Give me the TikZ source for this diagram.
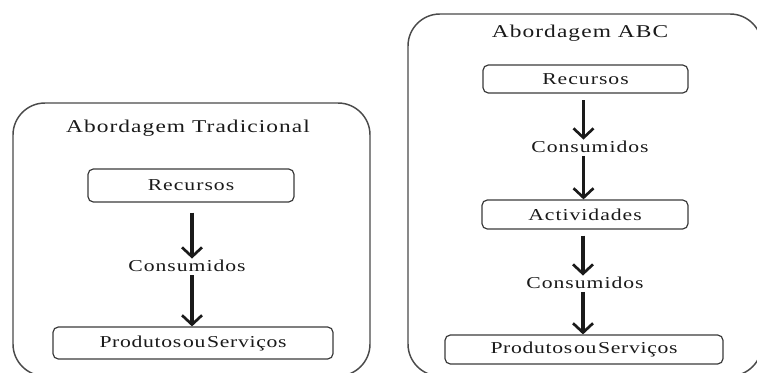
\documentclass[tikz,border=0pt]{standalone}
\usepackage{fontspec}
\usetikzlibrary{arrows.meta}
\newfontfamily\lblfont[FakeStretch=1.3,LetterSpace=6]{Liberation Serif}
\newfontfamily\tightfont[FakeStretch=1.3,LetterSpace=4,WordSpace=0.3]{Liberation Serif}
\definecolor{frame}{HTML}{4A4A4A}
\definecolor{boxline}{HTML}{3A3A3A}
\definecolor{ink}{HTML}{1A1A1A}
\begin{document}
\begin{tikzpicture}[x=0.75pt,y=-0.75pt,
  panel/.style={draw=frame,line width=1.1pt,rounded corners=24pt},
  stepbox/.style={draw=boxline,line width=0.9pt,rounded corners=4pt,
    minimum height=22pt,inner sep=0pt,text=ink,
    font=\lblfont\fontsize{12.5}{14}\selectfont},
  heading/.style={inner sep=0pt,text=ink,font=\lblfont\fontsize{13.5}{15}\selectfont},
  flowlabel/.style={inner sep=1pt,text=ink,font=\lblfont\fontsize{12.5}{14}\selectfont},
  flow/.style={draw=ink,line width=2.4pt,
    -{Straight Barb[length=7pt,width=15pt,line width=2pt]}}]
\useasboundingbox (0,0) rectangle (757,372);
\clip (0,0) rectangle (757,372);

% traditional approach
\draw[panel] (13,103) rectangle (370,376);
\node[heading] (titleL) at (188,128) {Abordagem Tradicional};
\node[stepbox,minimum width=154.5pt,minimum height=24.75pt] (recL) at (191,185.5) {Recursos};
\node[flowlabel] (conL) at (187,266) {Consumidos};
\node[stepbox,minimum width=210pt,minimum height=24pt] (prodL) at (193,343) {\tightfont\fontsize{12.5}{14}\selectfont Produtos ou Serviços};
\draw[flow,shorten <=7.5pt] ([xshift=0.75pt]recL.south) -- ([xshift=0.75pt]recL.south |- conL.north);
\draw[flow,shorten <=1.5pt] ([xshift=0.75pt]recL.south |- conL.south) -- ([xshift=0.75pt]recL.south |- prodL.north);

% ABC approach
\draw[panel] (408,14) rectangle (762,376);
\node[heading] (titleR) at (580,33) {Abordagem ABC};
\node[stepbox,minimum width=153.75pt,minimum height=21pt] (recR) at (585.5,79) {Recursos};
\node[flowlabel] (conR1) at (590,147) {Consumidos};
\node[stepbox,minimum width=154.5pt,minimum height=21.75pt] (actR) at (585,214.5) {Actividades};
\node[flowlabel] (conR2) at (585,283) {Consumidos};
\node[stepbox,minimum width=208.5pt,minimum height=21.75pt] (prodR) at (584,349.5) {\tightfont\fontsize{12.5}{14}\selectfont Produtos ou Serviços};
\draw[flow,shorten <=5pt] ([xshift=-1.5pt]recR.south) -- ([xshift=-1.5pt]recR.south |- conR1.north);
\draw[flow,shorten <=1pt] ([xshift=-1.5pt]recR.south |- conR1.south) -- ([xshift=-1.5pt]recR.south |- actR.north);
\draw[flow,shorten <=4.5pt] ([xshift=-1.5pt]actR.south) -- ([xshift=-1.5pt]actR.south |- conR2.north);
\draw[flow,shorten <=1pt] ([xshift=-1.5pt]actR.south |- conR2.south) -- ([xshift=-1.5pt]actR.south |- prodR.north);
\end{tikzpicture}
\end{document}
